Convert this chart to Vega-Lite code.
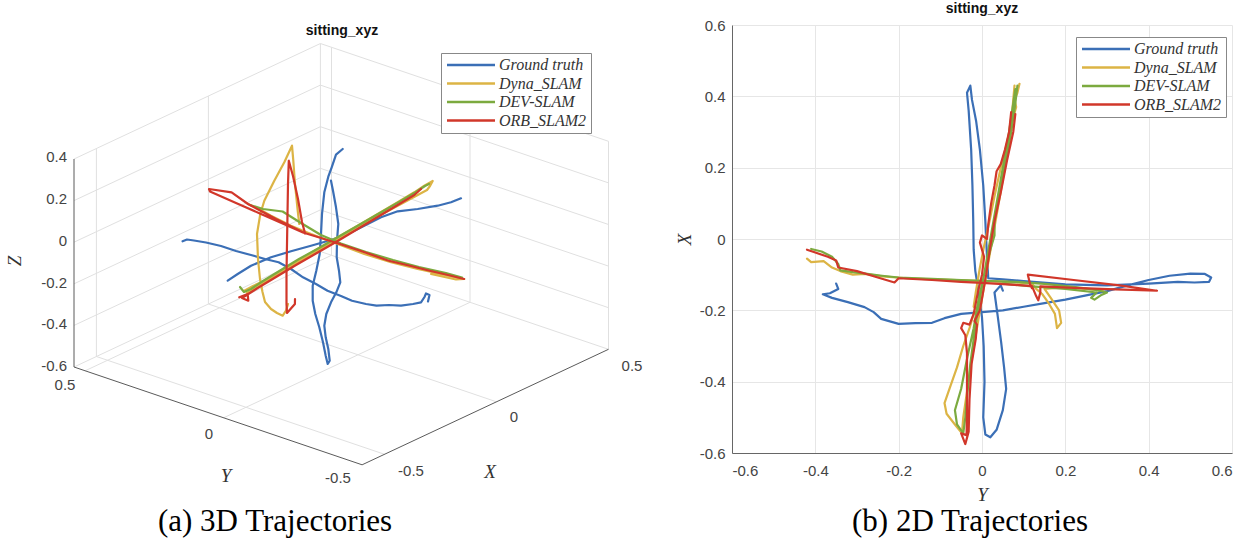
{
"$schema": "https://vega.github.io/schema/vega-lite/v6.json",
"background": "white",
"padding": {"left": 5, "top": 2, "right": 5, "bottom": 5},
"bounds": "flush",
"spacing": 100,
"config": {"view": {"stroke": null}},
"resolve": {"legend": {"color": "independent"}},
"datasets": {
"grid3d": [
{"u":383.5,"v":450.3,"u2":95.4,"v2":352.5},
{"u":495.5,"v":397.8,"u2":207.4,"v2":300},
{"u":607.5,"v":345.3,"u2":319.4,"v2":247.5},
{"u":222.6,"v":413.8,"u2":469,"v2":298.3},
{"u":84.1,"v":366.8,"u2":330.5,"v2":251.3},
{"u":73,"v":363,"u2":319.4,"v2":247.5},
{"u":607.5,"v":345.3,"u2":607.5,"v2":137.3},
{"u":469,"v":298.3,"u2":469,"v2":90.3},
{"u":330.5,"v":251.3,"u2":330.5,"v2":43.3},
{"u":319.4,"v":247.5,"u2":319.4,"v2":39.5},
{"u":607.5,"v":303.7,"u2":319.4,"v2":205.9},
{"u":607.5,"v":262.1,"u2":319.4,"v2":164.3},
{"u":607.5,"v":220.5,"u2":319.4,"v2":122.7},
{"u":607.5,"v":178.9,"u2":319.4,"v2":81.1},
{"u":607.5,"v":137.3,"u2":319.4,"v2":39.5},
{"u":95.4,"v":352.5,"u2":95.4,"v2":144.5},
{"u":207.4,"v":300,"u2":207.4,"v2":92},
{"u":73,"v":321.4,"u2":319.4,"v2":205.9},
{"u":73,"v":279.8,"u2":319.4,"v2":164.3},
{"u":73,"v":238.2,"u2":319.4,"v2":122.7},
{"u":73,"v":196.6,"u2":319.4,"v2":81.1},
{"u":73,"v":155,"u2":319.4,"v2":39.5}
],
"axes3d": [
{"u":73,"v":363,"u2":73,"v2":155},
{"u":73,"v":363,"u2":361.1,"v2":460.8},
{"u":361.1,"v":460.8,"u2":607.5,"v2":345.3}
],
"traj3d": [
{"s":"Ground truth","g":"a","i":1,"u":341.7,"v":145},
{"s":"Ground truth","g":"a","i":2,"u":335,"v":150.7},
{"s":"Ground truth","g":"a","i":3,"u":330.7,"v":163.3},
{"s":"Ground truth","g":"a","i":4,"u":327.3,"v":172.7},
{"s":"Ground truth","g":"a","i":5,"u":323.3,"v":188.3},
{"s":"Ground truth","g":"a","i":6,"u":321,"v":210},
{"s":"Ground truth","g":"a","i":7,"u":320,"v":230},
{"s":"Ground truth","g":"a","i":8,"u":318.7,"v":250},
{"s":"Ground truth","g":"a","i":9,"u":315.3,"v":266.7},
{"s":"Ground truth","g":"a","i":10,"u":311.7,"v":281.7},
{"s":"Ground truth","g":"a","i":11,"u":311.7,"v":296.7},
{"s":"Ground truth","g":"a","i":12,"u":314.3,"v":310},
{"s":"Ground truth","g":"a","i":13,"u":318.3,"v":323.3},
{"s":"Ground truth","g":"a","i":14,"u":322,"v":338.3},
{"s":"Ground truth","g":"a","i":15,"u":324.7,"v":351.7},
{"s":"Ground truth","g":"a","i":16,"u":326.7,"v":360},
{"s":"Ground truth","g":"a","i":17,"u":328.7,"v":356.7},
{"s":"Ground truth","g":"a","i":18,"u":327.3,"v":345},
{"s":"Ground truth","g":"a","i":19,"u":324.7,"v":333.3},
{"s":"Ground truth","g":"a","i":20,"u":323.3,"v":321.7},
{"s":"Ground truth","g":"a","i":21,"u":325.3,"v":310},
{"s":"Ground truth","g":"a","i":22,"u":330,"v":298.3},
{"s":"Ground truth","g":"a","i":23,"u":335.3,"v":288.3},
{"s":"Ground truth","g":"a","i":24,"u":339.3,"v":278.3},
{"s":"Ground truth","g":"a","i":25,"u":338,"v":266.7},
{"s":"Ground truth","g":"a","i":26,"u":335.7,"v":253.3},
{"s":"Ground truth","g":"a","i":27,"u":336,"v":236.7},
{"s":"Ground truth","g":"a","i":28,"u":337.3,"v":220},
{"s":"Ground truth","g":"a","i":29,"u":335,"v":203.3},
{"s":"Ground truth","g":"a","i":30,"u":332,"v":186.7},
{"s":"Ground truth","g":"a","i":31,"u":330,"v":176.7},
{"s":"Ground truth","g":"b","i":1,"u":181.6,"v":237.3},
{"s":"Ground truth","g":"b","i":2,"u":186,"v":235.5},
{"s":"Ground truth","g":"b","i":3,"u":193,"v":236.5},
{"s":"Ground truth","g":"b","i":4,"u":205,"v":238.5},
{"s":"Ground truth","g":"b","i":5,"u":220,"v":242},
{"s":"Ground truth","g":"b","i":6,"u":235,"v":247},
{"s":"Ground truth","g":"b","i":7,"u":250,"v":251},
{"s":"Ground truth","g":"b","i":8,"u":264,"v":255},
{"s":"Ground truth","g":"b","i":9,"u":277.6,"v":258.3},
{"s":"Ground truth","g":"b","i":10,"u":290,"v":265},
{"s":"Ground truth","g":"b","i":11,"u":302,"v":273.3},
{"s":"Ground truth","g":"b","i":12,"u":315,"v":280},
{"s":"Ground truth","g":"b","i":13,"u":326.5,"v":286.7},
{"s":"Ground truth","g":"b","i":14,"u":340,"v":292},
{"s":"Ground truth","g":"b","i":15,"u":351,"v":296.7},
{"s":"Ground truth","g":"b","i":16,"u":365,"v":300},
{"s":"Ground truth","g":"b","i":17,"u":375.5,"v":301.7},
{"s":"Ground truth","g":"b","i":18,"u":388,"v":301},
{"s":"Ground truth","g":"b","i":19,"u":400,"v":301.7},
{"s":"Ground truth","g":"b","i":20,"u":412,"v":300},
{"s":"Ground truth","g":"b","i":21,"u":420,"v":298.3},
{"s":"Ground truth","g":"b","i":22,"u":423.5,"v":293},
{"s":"Ground truth","g":"b","i":23,"u":425,"v":289.5},
{"s":"Ground truth","g":"b","i":24,"u":428.5,"v":291},
{"s":"Ground truth","g":"b","i":25,"u":427,"v":297.5},
{"s":"Ground truth","g":"c","i":1,"u":226.7,"v":276.7},
{"s":"Ground truth","g":"c","i":2,"u":236.7,"v":270},
{"s":"Ground truth","g":"c","i":3,"u":250,"v":261.7},
{"s":"Ground truth","g":"c","i":4,"u":270,"v":253.3},
{"s":"Ground truth","g":"c","i":5,"u":290,"v":247.3},
{"s":"Ground truth","g":"c","i":6,"u":310,"v":241.7},
{"s":"Ground truth","g":"c","i":7,"u":330,"v":236},
{"s":"Ground truth","g":"c","i":8,"u":346.7,"v":230},
{"s":"Ground truth","g":"c","i":9,"u":363.3,"v":221.7},
{"s":"Ground truth","g":"c","i":10,"u":380,"v":213.3},
{"s":"Ground truth","g":"c","i":11,"u":396.7,"v":207.3},
{"s":"Ground truth","g":"c","i":12,"u":416.7,"v":205},
{"s":"Ground truth","g":"c","i":13,"u":436.7,"v":201.7},
{"s":"Ground truth","g":"c","i":14,"u":450,"v":198.3},
{"s":"Ground truth","g":"c","i":15,"u":460,"v":194.3},
{"s":"Dyna_SLAM","g":"a","i":1,"u":298.3,"v":220},
{"s":"Dyna_SLAM","g":"a","i":2,"u":296.7,"v":206.7},
{"s":"Dyna_SLAM","g":"a","i":3,"u":294,"v":180},
{"s":"Dyna_SLAM","g":"a","i":4,"u":292.3,"v":156.7},
{"s":"Dyna_SLAM","g":"a","i":5,"u":291,"v":141.7},
{"s":"Dyna_SLAM","g":"a","i":6,"u":283.3,"v":158.3},
{"s":"Dyna_SLAM","g":"a","i":7,"u":273.3,"v":176.7},
{"s":"Dyna_SLAM","g":"a","i":8,"u":263.3,"v":196.7},
{"s":"Dyna_SLAM","g":"a","i":9,"u":259.3,"v":210},
{"s":"Dyna_SLAM","g":"a","i":10,"u":256,"v":230},
{"s":"Dyna_SLAM","g":"a","i":11,"u":257,"v":255},
{"s":"Dyna_SLAM","g":"a","i":12,"u":259,"v":275},
{"s":"Dyna_SLAM","g":"a","i":13,"u":261.5,"v":288},
{"s":"Dyna_SLAM","g":"a","i":14,"u":264,"v":298},
{"s":"Dyna_SLAM","g":"a","i":15,"u":270,"v":305},
{"s":"Dyna_SLAM","g":"a","i":16,"u":276,"v":309},
{"s":"Dyna_SLAM","g":"a","i":17,"u":281.7,"v":311.7},
{"s":"Dyna_SLAM","g":"a","i":18,"u":285,"v":306.7},
{"s":"Dyna_SLAM","g":"a","i":19,"u":287,"v":300},
{"s":"Dyna_SLAM","g":"b","i":1,"u":243.3,"v":286.7},
{"s":"Dyna_SLAM","g":"b","i":2,"u":252,"v":282},
{"s":"Dyna_SLAM","g":"b","i":3,"u":263.3,"v":276.7},
{"s":"Dyna_SLAM","g":"b","i":4,"u":280,"v":266.7},
{"s":"Dyna_SLAM","g":"b","i":5,"u":296.7,"v":256.7},
{"s":"Dyna_SLAM","g":"b","i":6,"u":316.7,"v":245},
{"s":"Dyna_SLAM","g":"b","i":7,"u":336.7,"v":233.3},
{"s":"Dyna_SLAM","g":"b","i":8,"u":356.7,"v":221.7},
{"s":"Dyna_SLAM","g":"b","i":9,"u":376.7,"v":210},
{"s":"Dyna_SLAM","g":"b","i":10,"u":396.7,"v":198.3},
{"s":"Dyna_SLAM","g":"b","i":11,"u":413.3,"v":188.3},
{"s":"Dyna_SLAM","g":"b","i":12,"u":423.3,"v":181.7},
{"s":"Dyna_SLAM","g":"b","i":13,"u":431.7,"v":177},
{"s":"Dyna_SLAM","g":"b","i":14,"u":429,"v":182},
{"s":"Dyna_SLAM","g":"b","i":15,"u":426,"v":186},
{"s":"Dyna_SLAM","g":"b","i":16,"u":400,"v":200},
{"s":"Dyna_SLAM","g":"b","i":17,"u":370,"v":216},
{"s":"Dyna_SLAM","g":"b","i":18,"u":340,"v":234},
{"s":"Dyna_SLAM","g":"b","i":19,"u":305,"v":254},
{"s":"Dyna_SLAM","g":"b","i":20,"u":270,"v":274},
{"s":"Dyna_SLAM","g":"b","i":21,"u":246,"v":289},
{"s":"Dyna_SLAM","g":"c","i":1,"u":247,"v":200},
{"s":"Dyna_SLAM","g":"c","i":2,"u":258,"v":205},
{"s":"Dyna_SLAM","g":"c","i":3,"u":270,"v":211.7},
{"s":"Dyna_SLAM","g":"c","i":4,"u":290,"v":221.7},
{"s":"Dyna_SLAM","g":"c","i":5,"u":310,"v":230},
{"s":"Dyna_SLAM","g":"c","i":6,"u":336.7,"v":240},
{"s":"Dyna_SLAM","g":"c","i":7,"u":363.3,"v":250},
{"s":"Dyna_SLAM","g":"c","i":8,"u":390,"v":258.3},
{"s":"Dyna_SLAM","g":"c","i":9,"u":416.7,"v":265},
{"s":"Dyna_SLAM","g":"c","i":10,"u":443.3,"v":270.7},
{"s":"Dyna_SLAM","g":"c","i":11,"u":463.3,"v":275},
{"s":"Dyna_SLAM","g":"c","i":12,"u":455,"v":275.5},
{"s":"Dyna_SLAM","g":"c","i":13,"u":430,"v":270},
{"s":"DEV-SLAM","g":"a","i":1,"u":239,"v":283},
{"s":"DEV-SLAM","g":"a","i":2,"u":243,"v":288},
{"s":"DEV-SLAM","g":"a","i":3,"u":250,"v":285},
{"s":"DEV-SLAM","g":"a","i":4,"u":262,"v":277},
{"s":"DEV-SLAM","g":"a","i":5,"u":280,"v":266},
{"s":"DEV-SLAM","g":"a","i":6,"u":298,"v":255},
{"s":"DEV-SLAM","g":"a","i":7,"u":318,"v":244},
{"s":"DEV-SLAM","g":"a","i":8,"u":338,"v":232.5},
{"s":"DEV-SLAM","g":"a","i":9,"u":358,"v":221},
{"s":"DEV-SLAM","g":"a","i":10,"u":378,"v":209.5},
{"s":"DEV-SLAM","g":"a","i":11,"u":398,"v":198},
{"s":"DEV-SLAM","g":"a","i":12,"u":414,"v":188.5},
{"s":"DEV-SLAM","g":"a","i":13,"u":424,"v":182},
{"s":"DEV-SLAM","g":"a","i":14,"u":428,"v":180},
{"s":"DEV-SLAM","g":"b","i":1,"u":249,"v":201},
{"s":"DEV-SLAM","g":"b","i":2,"u":262,"v":205},
{"s":"DEV-SLAM","g":"b","i":3,"u":281.6,"v":207.5},
{"s":"DEV-SLAM","g":"b","i":4,"u":300,"v":219},
{"s":"DEV-SLAM","g":"b","i":5,"u":320,"v":231},
{"s":"DEV-SLAM","g":"b","i":6,"u":340,"v":239.5},
{"s":"DEV-SLAM","g":"b","i":7,"u":365,"v":248},
{"s":"DEV-SLAM","g":"b","i":8,"u":392,"v":256},
{"s":"DEV-SLAM","g":"b","i":9,"u":418,"v":263},
{"s":"DEV-SLAM","g":"b","i":10,"u":445,"v":269},
{"s":"DEV-SLAM","g":"b","i":11,"u":461,"v":273.5},
{"s":"ORB_SLAM2","g":"a","i":1,"u":304,"v":229.3},
{"s":"ORB_SLAM2","g":"a","i":2,"u":275,"v":215},
{"s":"ORB_SLAM2","g":"a","i":3,"u":247,"v":200},
{"s":"ORB_SLAM2","g":"a","i":4,"u":230.6,"v":188.3},
{"s":"ORB_SLAM2","g":"a","i":5,"u":208,"v":185},
{"s":"ORB_SLAM2","g":"a","i":6,"u":209,"v":187.5},
{"s":"ORB_SLAM2","g":"a","i":7,"u":235,"v":199},
{"s":"ORB_SLAM2","g":"a","i":8,"u":260,"v":210},
{"s":"ORB_SLAM2","g":"a","i":9,"u":285,"v":221},
{"s":"ORB_SLAM2","g":"a","i":10,"u":302,"v":228.5},
{"s":"ORB_SLAM2","g":"a","i":11,"u":320,"v":234},
{"s":"ORB_SLAM2","g":"a","i":12,"u":338.8,"v":240},
{"s":"ORB_SLAM2","g":"a","i":13,"u":360,"v":247},
{"s":"ORB_SLAM2","g":"a","i":14,"u":387.8,"v":256.7},
{"s":"ORB_SLAM2","g":"a","i":15,"u":410,"v":262},
{"s":"ORB_SLAM2","g":"a","i":16,"u":428.6,"v":266.7},
{"s":"ORB_SLAM2","g":"a","i":17,"u":447,"v":271},
{"s":"ORB_SLAM2","g":"a","i":18,"u":463,"v":275},
{"s":"ORB_SLAM2","g":"b","i":1,"u":304,"v":229.3},
{"s":"ORB_SLAM2","g":"b","i":2,"u":301,"v":218},
{"s":"ORB_SLAM2","g":"b","i":3,"u":297,"v":195},
{"s":"ORB_SLAM2","g":"b","i":4,"u":292,"v":172},
{"s":"ORB_SLAM2","g":"b","i":5,"u":287.8,"v":156.7},
{"s":"ORB_SLAM2","g":"b","i":6,"u":287,"v":180},
{"s":"ORB_SLAM2","g":"b","i":7,"u":286.5,"v":210},
{"s":"ORB_SLAM2","g":"b","i":8,"u":286,"v":240},
{"s":"ORB_SLAM2","g":"b","i":9,"u":285.5,"v":270},
{"s":"ORB_SLAM2","g":"b","i":10,"u":285.5,"v":300},
{"s":"ORB_SLAM2","g":"b","i":11,"u":286,"v":309},
{"s":"ORB_SLAM2","g":"b","i":12,"u":293.9,"v":300},
{"s":"ORB_SLAM2","g":"b","i":13,"u":294,"v":295},
{"s":"ORB_SLAM2","g":"c","i":1,"u":238.3,"v":293.3},
{"s":"ORB_SLAM2","g":"c","i":2,"u":246.7,"v":290},
{"s":"ORB_SLAM2","g":"c","i":3,"u":247.3,"v":296.7},
{"s":"ORB_SLAM2","g":"c","i":4,"u":241,"v":294},
{"s":"ORB_SLAM2","g":"c","i":5,"u":256.7,"v":284},
{"s":"ORB_SLAM2","g":"c","i":6,"u":275,"v":273},
{"s":"ORB_SLAM2","g":"c","i":7,"u":295,"v":261},
{"s":"ORB_SLAM2","g":"c","i":8,"u":315,"v":249.5},
{"s":"ORB_SLAM2","g":"c","i":9,"u":335,"v":238},
{"s":"ORB_SLAM2","g":"c","i":10,"u":355,"v":226},
{"s":"ORB_SLAM2","g":"c","i":11,"u":375,"v":214},
{"s":"ORB_SLAM2","g":"c","i":12,"u":395,"v":202},
{"s":"ORB_SLAM2","g":"c","i":13,"u":413.3,"v":191},
{"s":"ORB_SLAM2","g":"c","i":14,"u":420,"v":185}
],
"traj2d": [
{"s":"Ground truth","g":"a","i":1,"Y":-0.35,"X":-0.125},
{"s":"Ground truth","g":"a","i":2,"Y":-0.345,"X":-0.14},
{"s":"Ground truth","g":"a","i":3,"Y":-0.365,"X":-0.152},
{"s":"Ground truth","g":"a","i":4,"Y":-0.382,"X":-0.155},
{"s":"Ground truth","g":"a","i":5,"Y":-0.36,"X":-0.165},
{"s":"Ground truth","g":"a","i":6,"Y":-0.322,"X":-0.177},
{"s":"Ground truth","g":"a","i":7,"Y":-0.282,"X":-0.191},
{"s":"Ground truth","g":"a","i":8,"Y":-0.26,"X":-0.205},
{"s":"Ground truth","g":"a","i":9,"Y":-0.242,"X":-0.224},
{"s":"Ground truth","g":"a","i":10,"Y":-0.2,"X":-0.238},
{"s":"Ground truth","g":"a","i":11,"Y":-0.16,"X":-0.236},
{"s":"Ground truth","g":"a","i":12,"Y":-0.12,"X":-0.235},
{"s":"Ground truth","g":"a","i":13,"Y":-0.09,"X":-0.222},
{"s":"Ground truth","g":"a","i":14,"Y":-0.05,"X":-0.21},
{"s":"Ground truth","g":"a","i":15,"Y":0.0,"X":-0.205},
{"s":"Ground truth","g":"a","i":16,"Y":0.05,"X":-0.2},
{"s":"Ground truth","g":"a","i":17,"Y":0.1,"X":-0.19},
{"s":"Ground truth","g":"a","i":18,"Y":0.15,"X":-0.18},
{"s":"Ground truth","g":"a","i":19,"Y":0.2,"X":-0.17},
{"s":"Ground truth","g":"a","i":20,"Y":0.25,"X":-0.158},
{"s":"Ground truth","g":"a","i":21,"Y":0.3,"X":-0.146},
{"s":"Ground truth","g":"a","i":22,"Y":0.35,"X":-0.13},
{"s":"Ground truth","g":"a","i":23,"Y":0.4,"X":-0.115},
{"s":"Ground truth","g":"a","i":24,"Y":0.45,"X":-0.103},
{"s":"Ground truth","g":"a","i":25,"Y":0.5,"X":-0.097},
{"s":"Ground truth","g":"a","i":26,"Y":0.535,"X":-0.098},
{"s":"Ground truth","g":"a","i":27,"Y":0.55,"X":-0.108},
{"s":"Ground truth","g":"a","i":28,"Y":0.545,"X":-0.12},
{"s":"Ground truth","g":"a","i":29,"Y":0.51,"X":-0.122},
{"s":"Ground truth","g":"a","i":30,"Y":0.47,"X":-0.12},
{"s":"Ground truth","g":"a","i":31,"Y":0.4,"X":-0.125},
{"s":"Ground truth","g":"a","i":32,"Y":0.3,"X":-0.13},
{"s":"Ground truth","g":"a","i":33,"Y":0.2,"X":-0.127},
{"s":"Ground truth","g":"a","i":34,"Y":0.1,"X":-0.118},
{"s":"Ground truth","g":"a","i":35,"Y":0.05,"X":-0.113},
{"s":"Ground truth","g":"a","i":36,"Y":0.015,"X":-0.11},
{"s":"Ground truth","g":"a","i":37,"Y":0.012,"X":-0.05},
{"s":"Ground truth","g":"a","i":38,"Y":0.008,"X":0.05},
{"s":"Ground truth","g":"a","i":39,"Y":0.003,"X":0.15},
{"s":"Ground truth","g":"a","i":40,"Y":-0.005,"X":0.25},
{"s":"Ground truth","g":"a","i":41,"Y":-0.014,"X":0.33},
{"s":"Ground truth","g":"a","i":42,"Y":-0.024,"X":0.39},
{"s":"Ground truth","g":"a","i":43,"Y":-0.028,"X":0.43},
{"s":"Ground truth","g":"a","i":44,"Y":-0.036,"X":0.41},
{"s":"Ground truth","g":"a","i":45,"Y":-0.032,"X":0.36},
{"s":"Ground truth","g":"a","i":46,"Y":-0.026,"X":0.25},
{"s":"Ground truth","g":"a","i":47,"Y":-0.023,"X":0.15},
{"s":"Ground truth","g":"a","i":48,"Y":-0.021,"X":0.05},
{"s":"Ground truth","g":"a","i":49,"Y":-0.02,"X":-0.03},
{"s":"Ground truth","g":"a","i":50,"Y":-0.016,"X":-0.09},
{"s":"Ground truth","g":"a","i":51,"Y":-0.008,"X":-0.15},
{"s":"Ground truth","g":"a","i":52,"Y":0.0,"X":-0.22},
{"s":"Ground truth","g":"a","i":53,"Y":0.004,"X":-0.3},
{"s":"Ground truth","g":"a","i":54,"Y":0.006,"X":-0.4},
{"s":"Ground truth","g":"a","i":55,"Y":0.003,"X":-0.5},
{"s":"Ground truth","g":"a","i":56,"Y":0.008,"X":-0.548},
{"s":"Ground truth","g":"a","i":57,"Y":0.02,"X":-0.556},
{"s":"Ground truth","g":"a","i":58,"Y":0.035,"X":-0.535},
{"s":"Ground truth","g":"a","i":59,"Y":0.05,"X":-0.48},
{"s":"Ground truth","g":"a","i":60,"Y":0.058,"X":-0.42},
{"s":"Ground truth","g":"a","i":61,"Y":0.053,"X":-0.36},
{"s":"Ground truth","g":"a","i":62,"Y":0.046,"X":-0.29},
{"s":"Ground truth","g":"a","i":63,"Y":0.037,"X":-0.21},
{"s":"Ground truth","g":"a","i":64,"Y":0.03,"X":-0.15},
{"s":"Ground truth","g":"a","i":65,"Y":0.045,"X":-0.13},
{"s":"Ground truth","g":"a","i":66,"Y":0.05,"X":-0.145},
{"s":"Dyna_SLAM","g":"a","i":1,"Y":-0.42,"X":-0.055},
{"s":"Dyna_SLAM","g":"a","i":2,"Y":-0.41,"X":-0.065},
{"s":"Dyna_SLAM","g":"a","i":3,"Y":-0.38,"X":-0.062},
{"s":"Dyna_SLAM","g":"a","i":4,"Y":-0.36,"X":-0.08},
{"s":"Dyna_SLAM","g":"a","i":5,"Y":-0.34,"X":-0.09},
{"s":"Dyna_SLAM","g":"a","i":6,"Y":-0.31,"X":-0.1},
{"s":"Dyna_SLAM","g":"a","i":7,"Y":-0.28,"X":-0.098},
{"s":"Dyna_SLAM","g":"a","i":8,"Y":-0.24,"X":-0.105},
{"s":"Dyna_SLAM","g":"a","i":9,"Y":-0.18,"X":-0.11},
{"s":"Dyna_SLAM","g":"a","i":10,"Y":-0.12,"X":-0.113},
{"s":"Dyna_SLAM","g":"a","i":11,"Y":-0.06,"X":-0.115},
{"s":"Dyna_SLAM","g":"a","i":12,"Y":0.0,"X":-0.118},
{"s":"Dyna_SLAM","g":"a","i":13,"Y":0.06,"X":-0.12},
{"s":"Dyna_SLAM","g":"a","i":14,"Y":0.12,"X":-0.125},
{"s":"Dyna_SLAM","g":"a","i":15,"Y":0.13,"X":-0.14},
{"s":"Dyna_SLAM","g":"a","i":16,"Y":0.145,"X":-0.155},
{"s":"Dyna_SLAM","g":"a","i":17,"Y":0.16,"X":-0.18},
{"s":"Dyna_SLAM","g":"a","i":18,"Y":0.175,"X":-0.21},
{"s":"Dyna_SLAM","g":"a","i":19,"Y":0.18,"X":-0.25},
{"s":"Dyna_SLAM","g":"a","i":20,"Y":0.19,"X":-0.235},
{"s":"Dyna_SLAM","g":"a","i":21,"Y":0.185,"X":-0.2},
{"s":"Dyna_SLAM","g":"a","i":22,"Y":0.165,"X":-0.165},
{"s":"Dyna_SLAM","g":"a","i":23,"Y":0.15,"X":-0.14},
{"s":"Dyna_SLAM","g":"a","i":24,"Y":0.2,"X":-0.135},
{"s":"Dyna_SLAM","g":"a","i":25,"Y":0.25,"X":-0.14},
{"s":"Dyna_SLAM","g":"a","i":26,"Y":0.29,"X":-0.145},
{"s":"Dyna_SLAM","g":"b","i":1,"Y":0.09,"X":0.435},
{"s":"Dyna_SLAM","g":"b","i":2,"Y":0.085,"X":0.41},
{"s":"Dyna_SLAM","g":"b","i":3,"Y":0.078,"X":0.39},
{"s":"Dyna_SLAM","g":"b","i":4,"Y":0.082,"X":0.37},
{"s":"Dyna_SLAM","g":"b","i":5,"Y":0.075,"X":0.34},
{"s":"Dyna_SLAM","g":"b","i":6,"Y":0.06,"X":0.27},
{"s":"Dyna_SLAM","g":"b","i":7,"Y":0.045,"X":0.2},
{"s":"Dyna_SLAM","g":"b","i":8,"Y":0.03,"X":0.12},
{"s":"Dyna_SLAM","g":"b","i":9,"Y":0.018,"X":0.05},
{"s":"Dyna_SLAM","g":"b","i":10,"Y":0.005,"X":-0.02},
{"s":"Dyna_SLAM","g":"b","i":11,"Y":-0.005,"X":-0.08},
{"s":"Dyna_SLAM","g":"b","i":12,"Y":-0.015,"X":-0.15},
{"s":"Dyna_SLAM","g":"b","i":13,"Y":-0.02,"X":-0.19},
{"s":"Dyna_SLAM","g":"b","i":14,"Y":-0.01,"X":-0.2},
{"s":"Dyna_SLAM","g":"b","i":15,"Y":-0.02,"X":-0.21},
{"s":"Dyna_SLAM","g":"b","i":16,"Y":-0.03,"X":-0.25},
{"s":"Dyna_SLAM","g":"b","i":17,"Y":-0.045,"X":-0.3},
{"s":"Dyna_SLAM","g":"b","i":18,"Y":-0.06,"X":-0.36},
{"s":"Dyna_SLAM","g":"b","i":19,"Y":-0.075,"X":-0.41},
{"s":"Dyna_SLAM","g":"b","i":20,"Y":-0.09,"X":-0.46},
{"s":"Dyna_SLAM","g":"b","i":21,"Y":-0.085,"X":-0.49},
{"s":"Dyna_SLAM","g":"b","i":22,"Y":-0.065,"X":-0.52},
{"s":"Dyna_SLAM","g":"b","i":23,"Y":-0.048,"X":-0.545},
{"s":"Dyna_SLAM","g":"b","i":24,"Y":-0.045,"X":-0.5},
{"s":"Dyna_SLAM","g":"b","i":25,"Y":-0.035,"X":-0.42},
{"s":"Dyna_SLAM","g":"b","i":26,"Y":-0.025,"X":-0.34},
{"s":"Dyna_SLAM","g":"b","i":27,"Y":-0.015,"X":-0.27},
{"s":"Dyna_SLAM","g":"b","i":28,"Y":-0.005,"X":-0.2},
{"s":"Dyna_SLAM","g":"b","i":29,"Y":0.01,"X":-0.1},
{"s":"Dyna_SLAM","g":"b","i":30,"Y":0.025,"X":0.0},
{"s":"Dyna_SLAM","g":"b","i":31,"Y":0.04,"X":0.1},
{"s":"Dyna_SLAM","g":"b","i":32,"Y":0.055,"X":0.2},
{"s":"Dyna_SLAM","g":"b","i":33,"Y":0.065,"X":0.27},
{"s":"Dyna_SLAM","g":"b","i":34,"Y":0.072,"X":0.35},
{"s":"Dyna_SLAM","g":"b","i":35,"Y":0.078,"X":0.43},
{"s":"DEV-SLAM","g":"a","i":1,"Y":-0.41,"X":-0.028},
{"s":"DEV-SLAM","g":"a","i":2,"Y":-0.385,"X":-0.035},
{"s":"DEV-SLAM","g":"a","i":3,"Y":-0.36,"X":-0.05},
{"s":"DEV-SLAM","g":"a","i":4,"Y":-0.345,"X":-0.07},
{"s":"DEV-SLAM","g":"a","i":5,"Y":-0.34,"X":-0.088},
{"s":"DEV-SLAM","g":"a","i":6,"Y":-0.31,"X":-0.093},
{"s":"DEV-SLAM","g":"a","i":7,"Y":-0.28,"X":-0.097},
{"s":"DEV-SLAM","g":"a","i":8,"Y":-0.24,"X":-0.103},
{"s":"DEV-SLAM","g":"a","i":9,"Y":-0.2,"X":-0.108},
{"s":"DEV-SLAM","g":"a","i":10,"Y":-0.12,"X":-0.112},
{"s":"DEV-SLAM","g":"a","i":11,"Y":-0.05,"X":-0.115},
{"s":"DEV-SLAM","g":"a","i":12,"Y":0.0,"X":-0.117},
{"s":"DEV-SLAM","g":"a","i":13,"Y":0.08,"X":-0.12},
{"s":"DEV-SLAM","g":"a","i":14,"Y":0.15,"X":-0.126},
{"s":"DEV-SLAM","g":"a","i":15,"Y":0.22,"X":-0.134},
{"s":"DEV-SLAM","g":"a","i":16,"Y":0.27,"X":-0.142},
{"s":"DEV-SLAM","g":"a","i":17,"Y":0.3,"X":-0.15},
{"s":"DEV-SLAM","g":"a","i":18,"Y":0.285,"X":-0.158},
{"s":"DEV-SLAM","g":"a","i":19,"Y":0.27,"X":-0.17},
{"s":"DEV-SLAM","g":"a","i":20,"Y":0.262,"X":-0.165},
{"s":"DEV-SLAM","g":"a","i":21,"Y":0.275,"X":-0.15},
{"s":"DEV-SLAM","g":"a","i":22,"Y":0.2,"X":-0.14},
{"s":"DEV-SLAM","g":"a","i":23,"Y":0.12,"X":-0.133},
{"s":"DEV-SLAM","g":"a","i":24,"Y":0.05,"X":-0.125},
{"s":"DEV-SLAM","g":"b","i":1,"Y":0.085,"X":0.43},
{"s":"DEV-SLAM","g":"b","i":2,"Y":0.08,"X":0.38},
{"s":"DEV-SLAM","g":"b","i":3,"Y":0.07,"X":0.3},
{"s":"DEV-SLAM","g":"b","i":4,"Y":0.055,"X":0.2},
{"s":"DEV-SLAM","g":"b","i":5,"Y":0.04,"X":0.12},
{"s":"DEV-SLAM","g":"b","i":6,"Y":0.03,"X":0.05},
{"s":"DEV-SLAM","g":"b","i":7,"Y":0.03,"X":0.01},
{"s":"DEV-SLAM","g":"b","i":8,"Y":0.02,"X":-0.03},
{"s":"DEV-SLAM","g":"b","i":9,"Y":0.005,"X":-0.1},
{"s":"DEV-SLAM","g":"b","i":10,"Y":-0.01,"X":-0.18},
{"s":"DEV-SLAM","g":"b","i":11,"Y":-0.02,"X":-0.25},
{"s":"DEV-SLAM","g":"b","i":12,"Y":-0.035,"X":-0.33},
{"s":"DEV-SLAM","g":"b","i":13,"Y":-0.05,"X":-0.42},
{"s":"DEV-SLAM","g":"b","i":14,"Y":-0.065,"X":-0.48},
{"s":"DEV-SLAM","g":"b","i":15,"Y":-0.06,"X":-0.52},
{"s":"DEV-SLAM","g":"b","i":16,"Y":-0.045,"X":-0.545},
{"s":"DEV-SLAM","g":"b","i":17,"Y":-0.04,"X":-0.5},
{"s":"DEV-SLAM","g":"b","i":18,"Y":-0.035,"X":-0.43},
{"s":"DEV-SLAM","g":"b","i":19,"Y":-0.028,"X":-0.35},
{"s":"DEV-SLAM","g":"b","i":20,"Y":-0.02,"X":-0.28},
{"s":"DEV-SLAM","g":"b","i":21,"Y":-0.01,"X":-0.2},
{"s":"DEV-SLAM","g":"b","i":22,"Y":0.005,"X":-0.1},
{"s":"DEV-SLAM","g":"b","i":23,"Y":0.02,"X":0.0},
{"s":"DEV-SLAM","g":"b","i":24,"Y":0.035,"X":0.1},
{"s":"DEV-SLAM","g":"b","i":25,"Y":0.05,"X":0.2},
{"s":"DEV-SLAM","g":"b","i":26,"Y":0.065,"X":0.3},
{"s":"DEV-SLAM","g":"b","i":27,"Y":0.075,"X":0.38},
{"s":"DEV-SLAM","g":"b","i":28,"Y":0.08,"X":0.42},
{"s":"ORB_SLAM2","g":"a","i":1,"Y":-0.42,"X":-0.03},
{"s":"ORB_SLAM2","g":"a","i":2,"Y":-0.4,"X":-0.038},
{"s":"ORB_SLAM2","g":"a","i":3,"Y":-0.37,"X":-0.05},
{"s":"ORB_SLAM2","g":"a","i":4,"Y":-0.35,"X":-0.06},
{"s":"ORB_SLAM2","g":"a","i":5,"Y":-0.345,"X":-0.08},
{"s":"ORB_SLAM2","g":"a","i":6,"Y":-0.3,"X":-0.09},
{"s":"ORB_SLAM2","g":"a","i":7,"Y":-0.25,"X":-0.108},
{"s":"ORB_SLAM2","g":"a","i":8,"Y":-0.21,"X":-0.122},
{"s":"ORB_SLAM2","g":"a","i":9,"Y":-0.2,"X":-0.11},
{"s":"ORB_SLAM2","g":"a","i":10,"Y":-0.12,"X":-0.115},
{"s":"ORB_SLAM2","g":"a","i":11,"Y":-0.05,"X":-0.12},
{"s":"ORB_SLAM2","g":"a","i":12,"Y":0.0,"X":-0.123},
{"s":"ORB_SLAM2","g":"a","i":13,"Y":0.06,"X":-0.127},
{"s":"ORB_SLAM2","g":"a","i":14,"Y":0.12,"X":-0.132},
{"s":"ORB_SLAM2","g":"a","i":15,"Y":0.13,"X":-0.16},
{"s":"ORB_SLAM2","g":"a","i":16,"Y":0.135,"X":-0.172},
{"s":"ORB_SLAM2","g":"a","i":17,"Y":0.14,"X":-0.15},
{"s":"ORB_SLAM2","g":"a","i":18,"Y":0.14,"X":-0.133},
{"s":"ORB_SLAM2","g":"a","i":19,"Y":0.22,"X":-0.137},
{"s":"ORB_SLAM2","g":"a","i":20,"Y":0.32,"X":-0.141},
{"s":"ORB_SLAM2","g":"a","i":21,"Y":0.42,"X":-0.145},
{"s":"ORB_SLAM2","g":"a","i":22,"Y":0.33,"X":-0.13},
{"s":"ORB_SLAM2","g":"a","i":23,"Y":0.22,"X":-0.115},
{"s":"ORB_SLAM2","g":"a","i":24,"Y":0.11,"X":-0.1},
{"s":"ORB_SLAM2","g":"a","i":25,"Y":0.115,"X":-0.125},
{"s":"ORB_SLAM2","g":"a","i":26,"Y":0.12,"X":-0.138},
{"s":"ORB_SLAM2","g":"b","i":1,"Y":0.07,"X":0.356},
{"s":"ORB_SLAM2","g":"b","i":2,"Y":0.065,"X":0.3},
{"s":"ORB_SLAM2","g":"b","i":3,"Y":0.055,"X":0.25},
{"s":"ORB_SLAM2","g":"b","i":4,"Y":0.045,"X":0.21},
{"s":"ORB_SLAM2","g":"b","i":5,"Y":0.035,"X":0.19},
{"s":"ORB_SLAM2","g":"b","i":6,"Y":0.03,"X":0.15},
{"s":"ORB_SLAM2","g":"b","i":7,"Y":0.022,"X":0.1},
{"s":"ORB_SLAM2","g":"b","i":8,"Y":0.015,"X":0.04},
{"s":"ORB_SLAM2","g":"b","i":9,"Y":0.012,"X":0.0},
{"s":"ORB_SLAM2","g":"b","i":10,"Y":0.0,"X":0.01},
{"s":"ORB_SLAM2","g":"b","i":11,"Y":-0.005,"X":-0.01},
{"s":"ORB_SLAM2","g":"b","i":12,"Y":0.005,"X":-0.05},
{"s":"ORB_SLAM2","g":"b","i":13,"Y":0.0,"X":-0.1},
{"s":"ORB_SLAM2","g":"b","i":14,"Y":-0.01,"X":-0.15},
{"s":"ORB_SLAM2","g":"b","i":15,"Y":-0.015,"X":-0.18},
{"s":"ORB_SLAM2","g":"b","i":16,"Y":-0.02,"X":-0.21},
{"s":"ORB_SLAM2","g":"b","i":17,"Y":-0.03,"X":-0.24},
{"s":"ORB_SLAM2","g":"b","i":18,"Y":-0.045,"X":-0.235},
{"s":"ORB_SLAM2","g":"b","i":19,"Y":-0.05,"X":-0.25},
{"s":"ORB_SLAM2","g":"b","i":20,"Y":-0.04,"X":-0.27},
{"s":"ORB_SLAM2","g":"b","i":21,"Y":-0.036,"X":-0.32},
{"s":"ORB_SLAM2","g":"b","i":22,"Y":-0.036,"X":-0.4},
{"s":"ORB_SLAM2","g":"b","i":23,"Y":-0.036,"X":-0.48},
{"s":"ORB_SLAM2","g":"b","i":24,"Y":-0.037,"X":-0.55},
{"s":"ORB_SLAM2","g":"b","i":25,"Y":-0.05,"X":-0.545},
{"s":"ORB_SLAM2","g":"b","i":26,"Y":-0.04,"X":-0.575},
{"s":"ORB_SLAM2","g":"b","i":27,"Y":-0.032,"X":-0.54},
{"s":"ORB_SLAM2","g":"b","i":28,"Y":-0.03,"X":-0.45},
{"s":"ORB_SLAM2","g":"b","i":29,"Y":-0.025,"X":-0.35},
{"s":"ORB_SLAM2","g":"b","i":30,"Y":-0.015,"X":-0.28},
{"s":"ORB_SLAM2","g":"b","i":31,"Y":-0.012,"X":-0.24},
{"s":"ORB_SLAM2","g":"b","i":32,"Y":-0.018,"X":-0.23},
{"s":"ORB_SLAM2","g":"b","i":33,"Y":-0.005,"X":-0.2},
{"s":"ORB_SLAM2","g":"b","i":34,"Y":0.01,"X":-0.1},
{"s":"ORB_SLAM2","g":"b","i":35,"Y":0.02,"X":-0.02},
{"s":"ORB_SLAM2","g":"b","i":36,"Y":0.03,"X":0.05},
{"s":"ORB_SLAM2","g":"b","i":37,"Y":0.045,"X":0.13},
{"s":"ORB_SLAM2","g":"b","i":38,"Y":0.06,"X":0.22},
{"s":"ORB_SLAM2","g":"b","i":39,"Y":0.075,"X":0.3},
{"s":"ORB_SLAM2","g":"b","i":40,"Y":0.08,"X":0.35}
]
},
"hconcat": [
{
"width": 556,
"height": 428,
"layer": [
{"data": {"name": "grid3d"},
 "mark": {"type": "rule", "color": "#e0e0e0", "strokeWidth": 1},
 "encoding": {
  "x": {"field": "u", "type": "quantitative", "scale": {"domain": [75, 631], "nice": false, "zero": false}, "axis": null},
  "y": {"field": "v", "type": "quantitative", "scale": {"domain": [21, 449], "nice": false, "zero": false, "reverse": true}, "axis": null},
  "x2": {"field": "u2"}, "y2": {"field": "v2"}}},
{"data": {"name": "axes3d"},
 "mark": {"type": "rule", "color": "#5a5a5a", "strokeWidth": 1},
 "encoding": {
  "x": {"field": "u", "type": "quantitative"},
  "y": {"field": "v", "type": "quantitative"},
  "x2": {"field": "u2"}, "y2": {"field": "v2"}}},
{"data": {"name": "traj3d"},
 "mark": {"type": "line", "strokeWidth": 2.2, "strokeJoin": "round", "strokeCap": "round"},
 "encoding": {
  "x": {"field": "u", "type": "quantitative"},
  "y": {"field": "v", "type": "quantitative"},
  "color": {"field": "s", "type": "nominal",
   "scale": {"domain": ["Ground truth", "Dyna_SLAM", "DEV-SLAM", "ORB_SLAM2"], "range": ["#3b6fb6", "#dcb445", "#7caa3f", "#d1372a"]},
   "legend": {"title": null, "orient": "none", "legendX": 365, "legendY": 28, "symbolType": "M-4,0H4", "symbolSize": 144, "symbolOffset": 18, "symbolStrokeWidth": 2.5, "labelFont": "Liberation Serif", "labelFontStyle": "italic", "labelFontSize": 16, "labelColor": "#333", "labelOffset": 20, "strokeColor": "#888", "fillColor": "white", "padding": 4, "rowPadding": 2.5}},
  "detail": {"field": "g"},
  "order": {"field": "i", "type": "quantitative"}}},
{"data": {"values": [{"u":66,"v":153,"t":"0.4"},{"u":66,"v":195,"t":"0.2"},{"u":66,"v":237,"t":"0"},{"u":66,"v":279,"t":"-0.2"},{"u":66,"v":320,"t":"-0.4"},{"u":66,"v":362,"t":"-0.6"}]},
 "mark": {"type": "text", "align": "right", "baseline": "middle", "font": "Liberation Sans", "fontSize": 15, "color": "#444"},
 "encoding": {"x": {"field": "u", "type": "quantitative"}, "y": {"field": "v", "type": "quantitative"}, "text": {"field": "t"}}},
{"data": {"values": [{"u":64,"v":381,"t":"0.5"},{"u":208,"v":430,"t":"0"},{"u":337,"v":474,"t":"-0.5"},{"u":410,"v":467,"t":"-0.5"},{"u":513,"v":413,"t":"0"},{"u":631,"v":362,"t":"0.5"}]},
 "mark": {"type": "text", "align": "center", "baseline": "middle", "font": "Liberation Sans", "fontSize": 15, "color": "#444"},
 "encoding": {"x": {"field": "u", "type": "quantitative"}, "y": {"field": "v", "type": "quantitative"}, "text": {"field": "t"}}},
{"data": {"values": [{"u":225,"v":472,"t":"Y"},{"u":489,"v":468,"t":"X"}]},
 "mark": {"type": "text", "align": "center", "baseline": "middle", "font": "Liberation Serif", "fontStyle": "italic", "fontSize": 19, "color": "#333"},
 "encoding": {"x": {"field": "u", "type": "quantitative"}, "y": {"field": "v", "type": "quantitative"}, "text": {"field": "t"}}},
{"data": {"values": [{"u":14,"v":257,"t":"Z"}]},
 "mark": {"type": "text", "align": "center", "baseline": "middle", "angle": 270, "font": "Liberation Serif", "fontStyle": "italic", "fontSize": 19, "color": "#333"},
 "encoding": {"x": {"field": "u", "type": "quantitative"}, "y": {"field": "v", "type": "quantitative"}, "text": {"field": "t"}}},
{"data": {"values": [{"u":341,"v":27,"t":"sitting_xyz"}]},
 "mark": {"type": "text", "align": "center", "baseline": "middle", "font": "Liberation Sans", "fontWeight": "bold", "fontSize": 14, "color": "#111"},
 "encoding": {"x": {"field": "u", "type": "quantitative"}, "y": {"field": "v", "type": "quantitative"}, "text": {"field": "t"}}},
{"data": {"values": [{"u":274,"v":518,"t":"(a) 3D Trajectories"},{"u":969,"v":518,"t":"(b) 2D Trajectories"}]},
 "mark": {"type": "text", "align": "center", "baseline": "middle", "font": "Liberation Serif", "fontSize": 31, "color": "#000"},
 "encoding": {"x": {"field": "u", "type": "quantitative"}, "y": {"field": "v", "type": "quantitative"}, "text": {"field": "t"}}}
]
},
{
"width": 500,
"height": 428,
"title": {"text": "sitting_xyz", "font": "Liberation Sans", "fontSize": 14, "fontWeight": "bold", "color": "#111", "anchor": "middle", "offset": 2},
"data": {"name": "traj2d"},
"mark": {"type": "line", "strokeWidth": 2.2, "strokeJoin": "round", "strokeCap": "round"},
"encoding": {
 "x": {"field": "Y", "type": "quantitative", "scale": {"domain": [-0.6, 0.6], "nice": false, "zero": false},
  "axis": {"title": "Y", "values": [-0.6, -0.4, -0.2, 0, 0.2, 0.4, 0.6], "format": ".1~f", "labelExpr": "replace(datum.label, '−', '-')", "grid": true, "gridColor": "#e6e6e6", "domainColor": "#666", "ticks": false, "labelFont": "Liberation Sans", "labelFontSize": 15, "labelColor": "#444", "labelPadding": 10, "titleFont": "Liberation Serif", "titleFontStyle": "italic", "titleFontWeight": "normal", "titleFontSize": 19, "titleColor": "#333", "titlePadding": 7}},
 "y": {"field": "X", "type": "quantitative", "scale": {"domain": [-0.6, 0.6], "nice": false, "zero": false},
  "axis": {"title": "X", "values": [-0.6, -0.4, -0.2, 0, 0.2, 0.4, 0.6], "format": ".1~f", "labelExpr": "replace(datum.label, '−', '-')", "grid": true, "gridColor": "#e6e6e6", "domainColor": "#666", "ticks": false, "labelFont": "Liberation Sans", "labelFontSize": 15, "labelColor": "#444", "labelPadding": 7, "titleFont": "Liberation Serif", "titleFontStyle": "italic", "titleFontWeight": "normal", "titleFontSize": 19, "titleColor": "#333", "titlePadding": 5}},
 "color": {"field": "s", "type": "nominal",
  "scale": {"domain": ["Ground truth", "Dyna_SLAM", "DEV-SLAM", "ORB_SLAM2"], "range": ["#3b6fb6", "#dcb445", "#7caa3f", "#d1372a"]},
  "legend": {"title": null, "orient": "none", "legendX": 344, "legendY": 12, "symbolType": "M-4,0H4", "symbolSize": 144, "symbolOffset": 18, "symbolStrokeWidth": 2.5, "labelFont": "Liberation Serif", "labelFontStyle": "italic", "labelFontSize": 16, "labelColor": "#333", "labelOffset": 20, "strokeColor": "#888", "fillColor": "white", "padding": 4, "rowPadding": 2.5}},
 "detail": {"field": "g"},
 "order": {"field": "i", "type": "quantitative"}
}
}
]
}
